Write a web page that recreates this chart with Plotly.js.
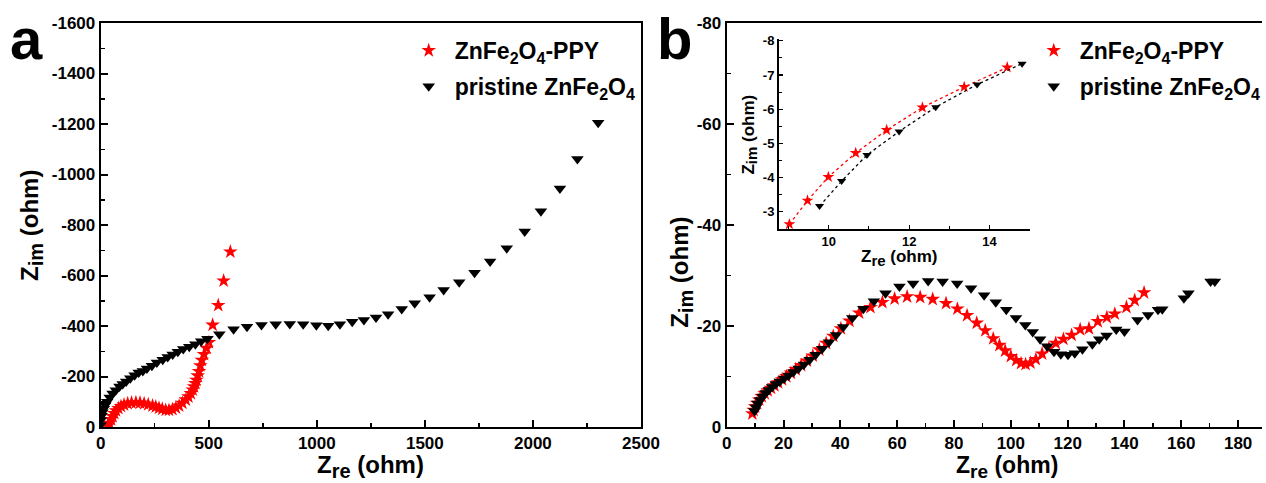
<!DOCTYPE html>
<html><head><meta charset="utf-8">
<script src="https://cdn.plot.ly/plotly-3.0.1.min.js"></script>
<style>html,body{margin:0;padding:0;background:#fff}#chart{width:1266px;height:483px}</style>
</head><body><div id="chart"></div>
<script>
// Panel a: ZnFe2O4-PPY (Zre, Zim in ohm)
const zreA_ppy = [32,40,48,55,63,71,82,94,108,125,143,163,182,201,220,240,255,270,285,301,316,332,348,363,378,394,406,417,426,432,438,443,449,455,461,468,478,490,501,518,544,569,600];
const zimA_ppy = [-4,-15,-30,-42,-54,-65,-74,-82,-88,-93,-96,-97,-96,-93,-89,-84,-80,-75,-71,-67,-67,-70,-76,-84,-95,-108,-120,-133,-147,-160,-173,-186,-203,-220,-243,-265,-288,-312,-335,-404,-482,-579,-694];
// Panel a: pristine ZnFe2O4
const zreA_pri = [0,1,4,8,14,21,30,42,55,70,87,102,118,137,157,176,195,214,237,260,287,310,333,357,382,410,438,465,494,549,615,677,744,810,875,937,998,1053,1107,1164,1218,1274,1330,1393,1453,1522,1587,1659,1730,1802,1879,1962,2037,2125,2206,2302];
const zimA_pri = [-8,-28,-45,-58,-72,-86,-100,-117,-133,-146,-160,-170,-180,-193,-205,-216,-222,-232,-243,-255,-266,-277,-287,-298,-309,-318,-328,-340,-350,-367,-387,-397,-404,-407,-408,-407,-403,-401,-407,-417,-424,-434,-447,-467,-490,-514,-543,-573,-611,-655,-708,-774,-854,-945,-1061,-1205];
// Panel b: ZnFe2O4-PPY
const zreB_ppy = [9.02,9.47,9.99,10.67,11.44,12.33,13.37,14.44,15.6,16.8,18.1,19.5,21.0,22.6,24.3,26.2,28.2,30.3,32.6,35.0,37.5,40.2,43.2,46.6,50.6,54.8,59.1,63.5,68.1,72.5,77.2,81.2,84.6,88.0,91.0,93.8,96.0,98.0,100.0,101.9,103.6,105.2,106.9,108.8,111.0,113.4,115.8,118.5,121.4,124.4,127.5,130.6,133.8,136.6,140.7,143.6,146.9];
const zimB_ppy = [-2.64,-3.33,-4.02,-4.72,-5.39,-6.05,-6.65,-7.22,-7.7,-8.2,-8.8,-9.4,-10.0,-10.7,-11.4,-12.2,-13.1,-14.1,-15.3,-16.6,-18.0,-19.5,-21.0,-22.6,-23.7,-24.7,-25.4,-25.8,-25.7,-25.3,-24.5,-23.4,-22.1,-20.6,-19.1,-17.5,-16.2,-15.1,-14.0,-13.2,-12.6,-12.4,-12.7,-13.4,-14.5,-15.6,-16.6,-17.4,-18.2,-19.3,-19.5,-20.9,-21.7,-22.4,-23.7,-25.1,-26.6];
// Panel b: pristine ZnFe2O4
const zreB_pri = [9.77,10.32,10.95,11.75,12.66,13.69,14.81,16.0,17.3,18.7,20.2,21.8,23.5,25.3,27.2,29.2,31.3,33.6,36.0,38.5,41.0,44.2,48.1,51.8,55.9,60.8,65.6,70.9,76.0,81.1,86.0,90.6,94.7,98.4,101.8,105.1,107.7,110.3,112.8,115.2,117.6,120.1,122.5,125.2,128.7,131.1,133.7,137.1,140.0,144.6,148.3,151.8,153.3,160.9,162.5,170.3,171.8];
const zimB_pri = [-3.17,-3.90,-4.66,-5.35,-6.06,-6.72,-7.33,-7.9,-8.5,-9.0,-9.6,-10.2,-10.9,-11.6,-12.4,-13.3,-14.3,-15.5,-16.8,-18.2,-19.8,-21.6,-23.4,-24.9,-26.5,-27.8,-28.4,-28.9,-28.8,-28.4,-27.5,-26.1,-24.7,-23.2,-21.6,-20.2,-18.8,-17.4,-16.0,-14.9,-14.4,-14.3,-14.6,-15.4,-16.4,-17.4,-18.1,-19.3,-18.9,-21.2,-22.2,-23.2,-23.3,-25.5,-26.5,-28.8,-28.8];
const insetMaxZre = 15;

// Tick labels
const tickA_x = [0,500,1000,1500,2000,2500];
const tickA_y = [0,-200,-400,-600,-800,-1000,-1200,-1400,-1600];
const tickB_x = [0,20,40,60,80,100,120,140,160,180];
const tickB_y = [0,-20,-40,-60,-80];
const tickI_x = [10,12,14];
const tickI_y = [-3,-4,-5,-6,-7,-8];
const lbl = v => String(v).replace('\u2212','-');

const sub = (t, s) => '<sub><span style="font-size:' + s + 'px">' + t + '</span></sub>';
const nameP = 'ZnFe' + sub('2',16) + 'O' + sub('4',16) + '-PPY';
const nameR = 'pristine ZnFe' + sub('2',16) + 'O' + sub('4',16);
const FF = 'Liberation Sans, Arial, Helvetica, sans-serif';
const RED = '#ff0000', BLK = '#000000';

function filt(xs, ys){ const x=[],y=[]; xs.forEach((v,i)=>{ if(v<=insetMaxZre){x.push(v);y.push(ys[i]);} }); return {x,y}; }
const iP = filt(zreB_ppy, zimB_ppy), iR = filt(zreB_pri, zimB_pri);

const traces = [
  {x:zreA_ppy, y:zimA_ppy, xaxis:'x', yaxis:'y', mode:'markers', name:nameP, legend:'legend', legendgroup:'a1',
   marker:{symbol:'star', size:11, color:RED, line:{width:0}}},
  {x:zreA_pri, y:zimA_pri, xaxis:'x', yaxis:'y', mode:'markers', name:nameR, legend:'legend', legendgroup:'a2',
   marker:{symbol:'triangle-down', size:11, color:BLK, line:{width:0}}},
  {x:zreB_ppy, y:zimB_ppy, xaxis:'x2', yaxis:'y2', mode:'markers', name:nameP, legend:'legend2', legendgroup:'b1',
   marker:{symbol:'star', size:11, color:RED, line:{width:0}}},
  {x:zreB_pri, y:zimB_pri, xaxis:'x2', yaxis:'y2', mode:'markers', name:nameR, legend:'legend2', legendgroup:'b2',
   marker:{symbol:'triangle-down', size:11, color:BLK, line:{width:0}}},
  {x:iP.x, y:iP.y, xaxis:'x3', yaxis:'y3', mode:'lines+markers', showlegend:false,
   line:{color:RED, width:1.3, dash:'dot'}, marker:{symbol:'star', size:9, color:RED}},
  {x:iR.x, y:iR.y, xaxis:'x3', yaxis:'y3', mode:'lines+markers', showlegend:false,
   line:{color:BLK, width:1.3, dash:'dot'}, marker:{symbol:'triangle-down', size:8, color:BLK}}
];

const tickFont = {family:FF, size:17, color:'#000', weight:'bold'};
function ax(extra){
  return Object.assign({showline:true, linecolor:'#000', linewidth:2, showgrid:false, zeroline:false,
    ticks:'inside', ticklen:7, tickwidth:2, tickcolor:'#000', tickfont:tickFont, tickmode:'array'}, extra);
}
const W=1266, H=483;
const px = v => v/W, py = v => (H-v)/H;
const legFont = {family:FF, size:23, color:'#000', weight:'bold'};

const layout = {
  width:W, height:H, margin:{l:0,r:0,t:0,b:0}, paper_bgcolor:'#fff', plot_bgcolor:'rgba(0,0,0,0)',
  font:{family:FF, color:'#000'},
  xaxis: ax({domain:[px(101),px(643)], anchor:'y', range:[0,2500], mirror:true, tickvals:tickA_x, ticktext:tickA_x.map(lbl),
    minor:{tickmode:'linear', tick0:0, dtick:250, ticks:'inside', ticklen:4, tickwidth:1.5, tickcolor:'#000'}}),
  yaxis: ax({domain:[py(427),py(23)], anchor:'x', range:[0,-1600], mirror:true, tickvals:tickA_y, ticktext:tickA_y.map(lbl),
    minor:{tickmode:'linear', tick0:0, dtick:100, ticks:'inside', ticklen:4, tickwidth:1.5, tickcolor:'#000'}}),
  xaxis2: ax({domain:[px(729),1], anchor:'y2', range:[0,188.4], mirror:true, tickvals:tickB_x, ticktext:tickB_x.map(lbl),
    minor:{tickmode:'linear', tick0:0, dtick:10, ticks:'inside', ticklen:4, tickwidth:1.5, tickcolor:'#000'}}),
  yaxis2: ax({domain:[py(427),py(23)], anchor:'x2', range:[0,-80], mirror:false, tickvals:tickB_y, ticktext:tickB_y.map(lbl),
    minor:{tickmode:'linear', tick0:0, dtick:10, ticks:'inside', ticklen:4, tickwidth:1.5, tickcolor:'#000'}}),
  xaxis3: ax({domain:[px(781),px(1033)], anchor:'y3', range:[8.75,15.0], linewidth:1.5, ticklen:4, tickwidth:1.2,
    tickvals:tickI_x, ticktext:tickI_x.map(lbl), tickfont:{family:FF, size:13, color:'#000', weight:'bold'},
    minor:{tickmode:'linear', tick0:0, dtick:1, ticks:'inside', ticklen:3, tickwidth:1, tickcolor:'#000'}}),
  yaxis3: ax({domain:[py(229),py(39)], anchor:'x3', range:[-2.5,-8.05], linewidth:1.5, ticklen:4, tickwidth:1.2,
    tickvals:tickI_y, ticktext:tickI_y.map(lbl), tickfont:{family:FF, size:13, color:'#000', weight:'bold'},
    minor:{tickmode:'linear', tick0:0, dtick:0.5, ticks:'inside', ticklen:3, tickwidth:1, tickcolor:'#000'}}),
  legend: {x:px(404), y:py(29), xanchor:'left', yanchor:'top', bgcolor:'rgba(0,0,0,0)', borderwidth:0, itemwidth:42,
    font:legFont, tracegroupgap:3, traceorder:'grouped', itemsizing:'trace'},
  legend2: {x:px(1031), y:py(29), xanchor:'left', yanchor:'top', bgcolor:'rgba(0,0,0,0)', borderwidth:0, itemwidth:42,
    font:legFont, tracegroupgap:3, traceorder:'grouped', itemsizing:'trace'},
  annotations: [
    {text:'a', x:px(27), y:py(38), xref:'paper', yref:'paper', showarrow:false, xanchor:'center', yanchor:'middle',
     font:{family:FF, size:58, color:'#000', weight:'bold'}},
    {text:'b', x:px(677), y:py(38), xref:'paper', yref:'paper', showarrow:false, xanchor:'center', yanchor:'middle',
     font:{family:FF, size:58, color:'#000', weight:'bold'}},
    {text:'Z' + sub('re',20) + ' (ohm)', x:px(372), y:py(466), xref:'paper', yref:'paper', showarrow:false, xanchor:'center', yanchor:'middle',
     font:{family:FF, size:24, color:'#000', weight:'bold'}},
    {text:'Z' + sub('im',20) + ' (ohm)', x:px(31), y:py(225), xref:'paper', yref:'paper', showarrow:false, xanchor:'center', yanchor:'middle', textangle:-90,
     font:{family:FF, size:24, color:'#000', weight:'bold'}},
    {text:'Z' + sub('re',19) + ' (ohm)', x:px(1010), y:py(467), xref:'paper', yref:'paper', showarrow:false, xanchor:'center', yanchor:'middle',
     font:{family:FF, size:23, color:'#000', weight:'bold'}},
    {text:'Z' + sub('im',20) + ' (ohm)', x:px(683), y:py(272), xref:'paper', yref:'paper', showarrow:false, xanchor:'center', yanchor:'middle', textangle:-90,
     font:{family:FF, size:24, color:'#000', weight:'bold'}},
    {text:'Z' + sub('re',15) + ' (ohm)', x:px(902), y:py(258), xref:'paper', yref:'paper', showarrow:false, xanchor:'center', yanchor:'middle',
     font:{family:FF, size:17, color:'#000', weight:'bold'}},
    {text:'Z' + sub('im',15) + ' (ohm)', x:px(752), y:py(135), xref:'paper', yref:'paper', showarrow:false, xanchor:'center', yanchor:'middle', textangle:-90,
     font:{family:FF, size:17, color:'#000', weight:'bold'}}
  ]
};
Plotly.newPlot('chart', traces, layout, {staticPlot:true, displayModeBar:false});
</script></body></html>
